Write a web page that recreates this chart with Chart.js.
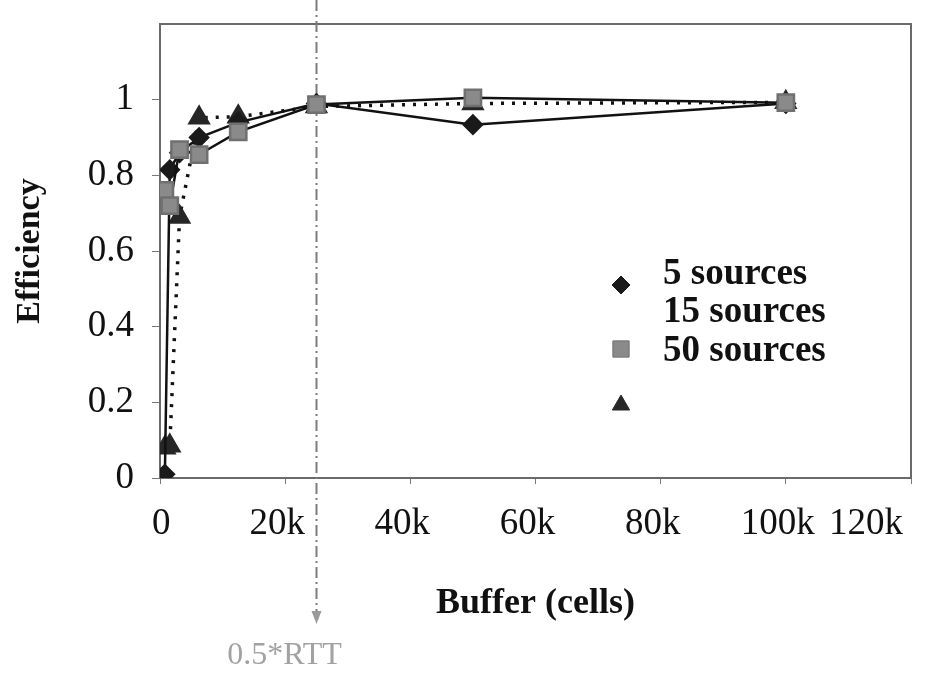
<!DOCTYPE html>
<html>
<head>
<meta charset="utf-8">
<script src="https://cdn.jsdelivr.net/npm/chart.js@4.4.1/dist/chart.umd.min.js"></script>
<style>
  html, body { margin: 0; padding: 0; background: #fff; }
  #wrap { width: 925px; height: 675px; }
</style>
</head>
<body>
<div id="wrap"><canvas id="effChart"></canvas></div>
<script>
// buffer sizes (cells) and measured efficiency per number of sources
const seriesNames = ['5 sources', '15 sources', '50 sources'];
const buffer5 = [781, 1563, 3125, 6250, 12500, 25000, 50000, 100000];
const eff5 = [0.01, 0.815, 0.86, 0.90, 0.94, 0.99, 0.934, 0.99];
const buffer15 = [781, 1563, 3125, 6250, 12500, 25000, 50000, 100000];
const eff15 = [0.76, 0.72, 0.868, 0.855, 0.915, 0.987, 1.005, 0.992];
const buffer50 = [781, 1563, 3125, 6250, 12500, 25000, 50000, 100000];
const eff50 = [0.08, 0.085, 0.69, 0.952, 0.955, 0.982, 0.99, 0.993];
const xTicks = [0, 20000, 40000, 60000, 80000, 100000, 120000];
const yTicks = [0, 0.2, 0.4, 0.6, 0.8, 1];
const rttBuffer = 25000;
const rttLabel = '0.5*RTT';

const serif = '"Liberation Serif", "DejaVu Serif", serif';

function toPoints(xs, ys) {
    return xs.map((x, i) => ({ x: x, y: ys[i] }));
}

// little marker painter for the legend
function paintMarker(ctx, style, x, y, r, fill, stroke) {
    ctx.save();
    ctx.fillStyle = fill;
    ctx.strokeStyle = stroke;
    ctx.lineWidth = 1;
    ctx.beginPath();
    if (style === 'rectRot') {
        ctx.moveTo(x, y - r); ctx.lineTo(x + r, y); ctx.lineTo(x, y + r); ctx.lineTo(x - r, y);
    } else if (style === 'rect') {
        const s = r * Math.SQRT1_2;
        ctx.rect(x - s, y - s, 2 * s, 2 * s);
    } else {
        ctx.moveTo(x, y - r);
        ctx.lineTo(x + r * 0.866, y + r / 2);
        ctx.lineTo(x - r * 0.866, y + r / 2);
    }
    ctx.closePath();
    ctx.fill();
    ctx.stroke();
    ctx.restore();
}

const framePlugin = {
    id: 'plotFrame',
    beforeDatasetsDraw(chart) {
        const { ctx, chartArea: a } = chart;
        ctx.save();
        ctx.strokeStyle = '#6a6a6a';
        ctx.lineWidth = 2;
        ctx.strokeRect(a.left, a.top, a.right - a.left, a.bottom - a.top);

        // 0.5*RTT marker line, goes past the plot area
        const x = Math.round(chart.scales.x.getPixelForValue(rttBuffer)) + 0.5;
        ctx.strokeStyle = '#7c7c7c';
        ctx.lineWidth = 2;
        ctx.setLineDash([11, 4, 2, 4]);
        ctx.beginPath();
        ctx.moveTo(x, 0);
        ctx.lineTo(x, 612);
        ctx.stroke();
        ctx.setLineDash([]);
        ctx.fillStyle = '#9a9a9a';
        ctx.beginPath();
        ctx.moveTo(x - 5, 611);
        ctx.lineTo(x + 5, 611);
        ctx.lineTo(x, 624);
        ctx.closePath();
        ctx.fill();
        ctx.fillStyle = '#a2a2a2';
        ctx.font = '32px ' + serif;
        ctx.textAlign = 'center';
        ctx.textBaseline = 'middle';
        ctx.fillText(rttLabel, x - 32, 656);
        ctx.restore();
    }
};

const legendPlugin = {
    id: 'sideLegend',
    afterDraw(chart) {
        const ctx = chart.ctx;
        const markerY = [285, 349, 405];
        const textY = [274, 312, 351];
        chart.data.datasets.forEach((ds, i) => {
            paintMarker(ctx, ds.pointStyle, 621, markerY[i], ds.pointRadius, ds.pointBackgroundColor, ds.pointBorderColor);
            ctx.save();
            ctx.fillStyle = '#111';
            ctx.font = 'bold 37px ' + serif;
            ctx.textAlign = 'left';
            ctx.textBaseline = 'middle';
            ctx.fillText(ds.label, 663, textY[i]);
            ctx.restore();
        });
    }
};

new Chart(document.getElementById('effChart'), {
    type: 'line',
    data: {
        datasets: [
            {
                label: seriesNames[0],
                data: toPoints(buffer5, eff5),
                borderColor: '#111',
                borderWidth: 2.5,
                pointStyle: 'rectRot',
                pointRadius: 9,
                pointBackgroundColor: '#1a1a1a',
                pointBorderColor: '#1a1a1a',
                order: 1
            },
            {
                label: seriesNames[1],
                data: toPoints(buffer15, eff15),
                borderColor: '#111',
                borderWidth: 2.5,
                pointStyle: 'rect',
                pointRadius: 11.5,
                pointBackgroundColor: '#8a8a8a',
                pointBorderColor: '#707070',
                order: 0
            },
            {
                label: seriesNames[2],
                data: toPoints(buffer50, eff50),
                borderColor: '#111',
                borderWidth: 3.5,
                borderDash: [3, 8],
                pointStyle: 'triangle',
                pointRadius: 10,
                pointBackgroundColor: '#262626',
                pointBorderColor: '#262626',
                order: 2
            }
        ]
    },
    options: {
        responsive: true,
        maintainAspectRatio: false,
        animation: false,
        layout: { padding: { left: 0, right: 0, top: 24, bottom: 0 } },
        elements: { line: { tension: 0, fill: false } },
        plugins: {
            legend: { display: false },
            tooltip: { enabled: false }
        },
        scales: {
            x: {
                type: 'linear',
                min: 0,
                max: 120000,
                afterBuildTicks: (s) => { s.ticks = xTicks.map(v => ({ value: v })); },
                afterFit: (s) => { s.height = 197; s.paddingLeft = 0; s.paddingRight = 0; },
                ticks: {
                    autoSkip: false,
                    maxRotation: 0,
                    align: 'inner',
                    labelOffset: -8,
                    padding: 18,
                    color: '#111',
                    font: { family: serif, size: 37 },
                    callback: (v) => v === 0 ? '0' : (v / 1000) + 'k'
                },
                grid: { drawOnChartArea: false, tickLength: 6, color: '#777' },
                border: { display: false },
                title: {
                    display: true,
                    text: 'Buffer (cells)',
                    color: '#111',
                    font: { family: serif, size: 36, weight: 'bold' },
                    padding: { top: 0, bottom: 50 }
                }
            },
            y: {
                min: 0,
                max: 1.2,
                afterBuildTicks: (s) => { s.ticks = yTicks.map(v => ({ value: v })); },
                afterFit: (s) => { s.width = 160; s.paddingTop = 0; s.paddingBottom = 0; },
                ticks: {
                    padding: 18,
                    color: '#111',
                    font: { family: serif, size: 37 },
                    callback: (v) => String(Math.round(v * 10) / 10)
                },
                grid: { drawOnChartArea: false, tickLength: 8, color: '#777' },
                border: { display: false },
                title: {
                    display: true,
                    text: 'Efficiency',
                    color: '#111',
                    font: { family: serif, size: 34, weight: 'bold' },
                    padding: { top: 10, bottom: 0 }
                }
            }
        }
    },
    plugins: [framePlugin, legendPlugin]
});
</script>
</body>
</html>
